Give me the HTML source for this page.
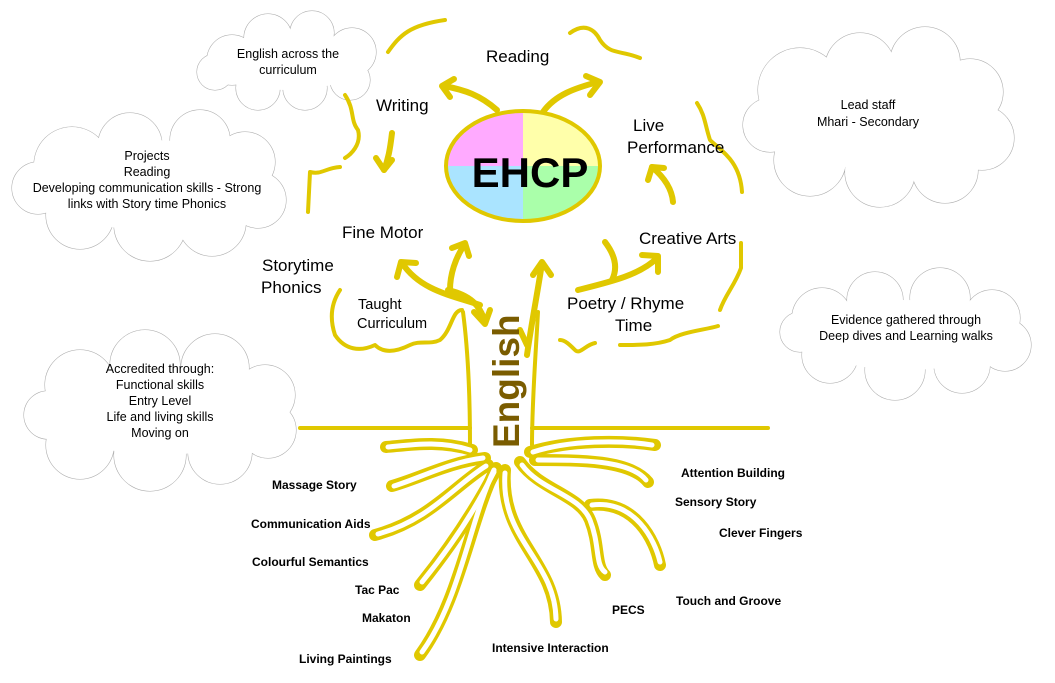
<!DOCTYPE html>
<html><head><meta charset="utf-8">
<style>
html,body{margin:0;padding:0;background:#fff;}
svg{display:block;}
text{font-family:"Liberation Sans",sans-serif;fill:#000;}
.c{font-size:12.5px;text-anchor:middle;}
.b{font-size:17px;}
.r{font-size:12px;font-weight:bold;}
.y{fill:none;stroke:#e0c800;stroke-linecap:round;stroke-linejoin:round;}
.cs circle,.cs ellipse{fill:#fff;stroke:#aaa;stroke-width:1;}
.cf circle,.cf ellipse{fill:#fff;stroke:none;}
</style></head>
<body>
<svg width="1055" height="683" viewBox="0 0 1055 683" xmlns="http://www.w3.org/2000/svg">

<g>
<g class="cs"><circle cx="232" cy="60" r="25"/><circle cx="268" cy="38" r="24"/><circle cx="312" cy="33" r="22"/><circle cx="352" cy="52" r="24"/><circle cx="350" cy="80" r="20"/><circle cx="305" cy="88" r="22"/><circle cx="258" cy="88" r="22"/><circle cx="215" cy="72" r="18"/></g>
<g class="cf"><circle cx="232" cy="60" r="25"/><circle cx="268" cy="38" r="24"/><circle cx="312" cy="33" r="22"/><circle cx="352" cy="52" r="24"/><circle cx="350" cy="80" r="20"/><circle cx="305" cy="88" r="22"/><circle cx="258" cy="88" r="22"/><circle cx="215" cy="72" r="18"/><ellipse cx="288" cy="62" rx="75" ry="28"/></g>
</g>
<g>
<g class="cs"><circle cx="72" cy="165" r="38"/><circle cx="130" cy="145" r="32"/><circle cx="200" cy="140" r="30"/><circle cx="245" cy="162" r="30"/><circle cx="258" cy="200" r="28"/><circle cx="212" cy="222" r="34"/><circle cx="150" cy="225" r="36"/><circle cx="80" cy="215" r="34"/><circle cx="38" cy="188" r="26"/></g>
<g class="cf"><circle cx="72" cy="165" r="38"/><circle cx="130" cy="145" r="32"/><circle cx="200" cy="140" r="30"/><circle cx="245" cy="162" r="30"/><circle cx="258" cy="200" r="28"/><circle cx="212" cy="222" r="34"/><circle cx="150" cy="225" r="36"/><circle cx="80" cy="215" r="34"/><circle cx="38" cy="188" r="26"/><ellipse cx="150" cy="185" rx="110" ry="45"/></g>
</g>
<g>
<g class="cs"><circle cx="800" cy="90" r="42"/><circle cx="860" cy="68" r="35"/><circle cx="925" cy="62" r="35"/><circle cx="970" cy="92" r="33"/><circle cx="982" cy="138" r="32"/><circle cx="945" cy="170" r="33"/><circle cx="880" cy="172" r="35"/><circle cx="810" cy="160" r="36"/><circle cx="770" cy="125" r="27"/></g>
<g class="cf"><circle cx="800" cy="90" r="42"/><circle cx="860" cy="68" r="35"/><circle cx="925" cy="62" r="35"/><circle cx="970" cy="92" r="33"/><circle cx="982" cy="138" r="32"/><circle cx="945" cy="170" r="33"/><circle cx="880" cy="172" r="35"/><circle cx="810" cy="160" r="36"/><circle cx="770" cy="125" r="27"/><ellipse cx="880" cy="120" rx="100" ry="50"/></g>
</g>
<g>
<g class="cs"><circle cx="822" cy="318" r="30"/><circle cx="875" cy="300" r="28"/><circle cx="940" cy="298" r="30"/><circle cx="992" cy="318" r="28"/><circle cx="1005" cy="345" r="26"/><circle cx="962" cy="365" r="28"/><circle cx="895" cy="370" r="30"/><circle cx="830" cy="355" r="28"/><circle cx="800" cy="332" r="20"/></g>
<g class="cf"><circle cx="822" cy="318" r="30"/><circle cx="875" cy="300" r="28"/><circle cx="940" cy="298" r="30"/><circle cx="992" cy="318" r="28"/><circle cx="1005" cy="345" r="26"/><circle cx="962" cy="365" r="28"/><circle cx="895" cy="370" r="30"/><circle cx="830" cy="355" r="28"/><circle cx="800" cy="332" r="20"/><ellipse cx="905" cy="335" rx="100" ry="35"/></g>
</g>
<g>
<g class="cs"><circle cx="80" cy="385" r="35"/><circle cx="145" cy="365" r="35"/><circle cx="215" cy="368" r="34"/><circle cx="265" cy="395" r="30"/><circle cx="268" cy="430" r="28"/><circle cx="220" cy="452" r="32"/><circle cx="150" cy="455" r="36"/><circle cx="80" cy="445" r="34"/><circle cx="48" cy="415" r="24"/></g>
<g class="cf"><circle cx="80" cy="385" r="35"/><circle cx="145" cy="365" r="35"/><circle cx="215" cy="368" r="34"/><circle cx="265" cy="395" r="30"/><circle cx="268" cy="430" r="28"/><circle cx="220" cy="452" r="32"/><circle cx="150" cy="455" r="36"/><circle cx="80" cy="445" r="34"/><circle cx="48" cy="415" r="24"/><ellipse cx="160" cy="410" rx="110" ry="45"/></g>
</g>

<text class="c" x="288" y="58">English across the</text>
<text class="c" x="288" y="74">curriculum</text>
<text class="c" x="147" y="160">Projects</text>
<text class="c" x="147" y="176">Reading</text>
<text class="c" x="147" y="192">Developing communication skills - Strong</text>
<text class="c" x="147" y="208">links with Story time Phonics</text>
<text class="c" x="868" y="109">Lead staff</text>
<text class="c" x="868" y="126">Mhari - Secondary</text>
<text class="c" x="906" y="324">Evidence gathered through</text>
<text class="c" x="906" y="340">Deep dives and Learning walks</text>
<text class="c" x="160" y="373">Accredited through:</text>
<text class="c" x="160" y="389">Functional skills</text>
<text class="c" x="160" y="405">Entry Level</text>
<text class="c" x="160" y="421">Life and living skills</text>
<text class="c" x="160" y="437">Moving on</text>

<g class="y" stroke-width="4">
<path d="M388,52 C400,35 410,25 445,20"/>
<path d="M345,95 C355,110 350,120 358,130 C362,145 350,155 345,158"/>
<path d="M340,167 C325,168 322,175 310,172 L308,212"/>
<path d="M570,33 C585,22 595,30 600,40 C610,55 620,50 640,58"/>
<path d="M697,103 C705,115 705,125 710,140 C720,150 740,160 742,192"/>
<path d="M741,243 L741,268 C735,285 725,295 720,310"/>
<path d="M718,326 C705,330 680,332 670,340 C655,345 640,345 620,345"/>
<path d="M595,343 C585,345 580,355 575,350 C570,345 565,340 560,340"/>
<path d="M340,290 C330,305 330,320 335,335 C345,350 360,352 375,345 C385,355 400,350 410,345 C420,340 430,345 440,340 C452,330 452,310 462,310"/>
</g>

<g class="y" stroke-width="6">
<path d="M497,110 C480,95 465,90 444,86"/><path d="M454,79 L442,86 L450,97"/>
<path d="M543,112 C555,95 575,88 598,82"/><path d="M586,76 L600,82 L590,95"/>
<path d="M392,133 C390,150 388,160 384,170"/><path d="M376,158 L384,170 L392,160"/>
<path d="M673,202 C672,190 665,178 652,167"/><path d="M648,180 L652,167 L664,168"/>
<path d="M605,242 C615,255 618,268 612,280"/>
<path d="M578,290 C610,282 640,275 657,258"/><path d="M642,255 L658,256 L658,272"/>
<path d="M450,290 C450,275 455,258 465,244"/><path d="M452,248 L465,243 L469,256"/>
<path d="M480,305 C450,295 420,290 402,263"/><path d="M397,277 L401,262 L416,263"/>
<path d="M448,290 C470,295 480,305 485,322"/><path d="M474,312 L485,324 L490,310"/>
<path d="M527,355 C532,320 538,290 542,263"/><path d="M533,275 L542,262 L551,275"/>
<path d="M527,345 L520,330"/>
</g>

<g class="y" stroke-width="4">
<path d="M300,428 L470,428"/>
<path d="M532,428 L768,428"/>
<path d="M463,312 C468,350 470,400 470,445"/>
<path d="M538,312 C536,350 532,400 532,445"/>
</g>

<g class="y" stroke-width="12">
<path d="M472,450 C440,440 410,445 386,447"/>
<path d="M485,458 C450,462 420,478 392,486"/>
<path d="M488,465 C455,485 430,520 375,535"/>
<path d="M496,468 C470,520 460,600 420,655"/>
<path d="M496,470 C470,520 440,560 420,585"/>
<path d="M505,470 C500,540 555,560 556,622"/>
<path d="M520,462 C540,490 580,495 590,520 C600,545 595,565 605,575"/>
<path d="M590,505 C635,500 655,540 660,565"/>
<path d="M530,452 C570,440 620,440 655,445"/>
<path d="M535,460 C580,460 630,460 648,482"/>
</g>
<g fill="none" stroke="#fff" stroke-width="5" stroke-linecap="round">
<path d="M470,450 C440,440 410,445 388,447"/>
<path d="M483,458 C450,462 420,478 394,486"/>
<path d="M486,466 C455,485 430,520 378,534"/>
<path d="M494,470 C470,520 460,600 422,652"/>
<path d="M494,472 C470,520 440,560 422,582"/>
<path d="M505,473 C500,540 555,560 556,619"/>
<path d="M522,465 C540,490 580,495 590,520 C600,545 595,565 605,572"/>
<path d="M592,505 C635,500 655,540 660,562"/>
<path d="M533,452 C570,440 620,440 652,445"/>
<path d="M538,460 C580,460 630,460 646,480"/>
</g>

<clipPath id="ec"><ellipse cx="523" cy="166" rx="77" ry="55"/></clipPath>
<g clip-path="url(#ec)">
<rect x="440" y="105" width="83" height="61" fill="#ffaaff"/>
<rect x="523" y="105" width="83" height="61" fill="#ffffaa"/>
<rect x="440" y="166" width="83" height="61" fill="#aae4ff"/>
<rect x="523" y="166" width="83" height="61" fill="#aaffaa"/>
</g>
<ellipse cx="523" cy="166" rx="77" ry="55" fill="none" stroke="#e0c800" stroke-width="4"/>
<text x="530" y="187" style="font-size:42px;font-weight:bold;text-anchor:middle;">EHCP</text>

<text transform="translate(519,448) rotate(-90)" style="font-size:37px;font-weight:bold;fill:#7a5c00;">English</text>

<text class="b" x="486" y="62">Reading</text>
<text class="b" x="376" y="111">Writing</text>
<text class="b" x="633" y="131">Live</text>
<text class="b" x="627" y="153">Performance</text>
<text class="b" x="342" y="238">Fine Motor</text>
<text class="b" x="639" y="244">Creative Arts</text>
<text class="b" x="262" y="271">Storytime</text>
<text class="b" x="261" y="293">Phonics</text>
<text x="358" y="309" style="font-size:14.5px">Taught</text>
<text x="357" y="328" style="font-size:14.5px">Curriculum</text>
<text class="b" x="567" y="309">Poetry / Rhyme</text>
<text class="b" x="615" y="331">Time</text>

<text class="r" x="272" y="489">Massage Story</text>
<text class="r" x="251" y="528">Communication Aids</text>
<text class="r" x="252" y="566">Colourful Semantics</text>
<text class="r" x="355" y="594">Tac Pac</text>
<text class="r" x="362" y="622">Makaton</text>
<text class="r" x="299" y="663">Living Paintings</text>
<text class="r" x="492" y="652">Intensive Interaction</text>
<text class="r" x="612" y="614">PECS</text>
<text class="r" x="676" y="605">Touch and Groove</text>
<text class="r" x="719" y="537">Clever Fingers</text>
<text class="r" x="675" y="506">Sensory Story</text>
<text class="r" x="681" y="477">Attention Building</text>
</svg>
</body></html>
